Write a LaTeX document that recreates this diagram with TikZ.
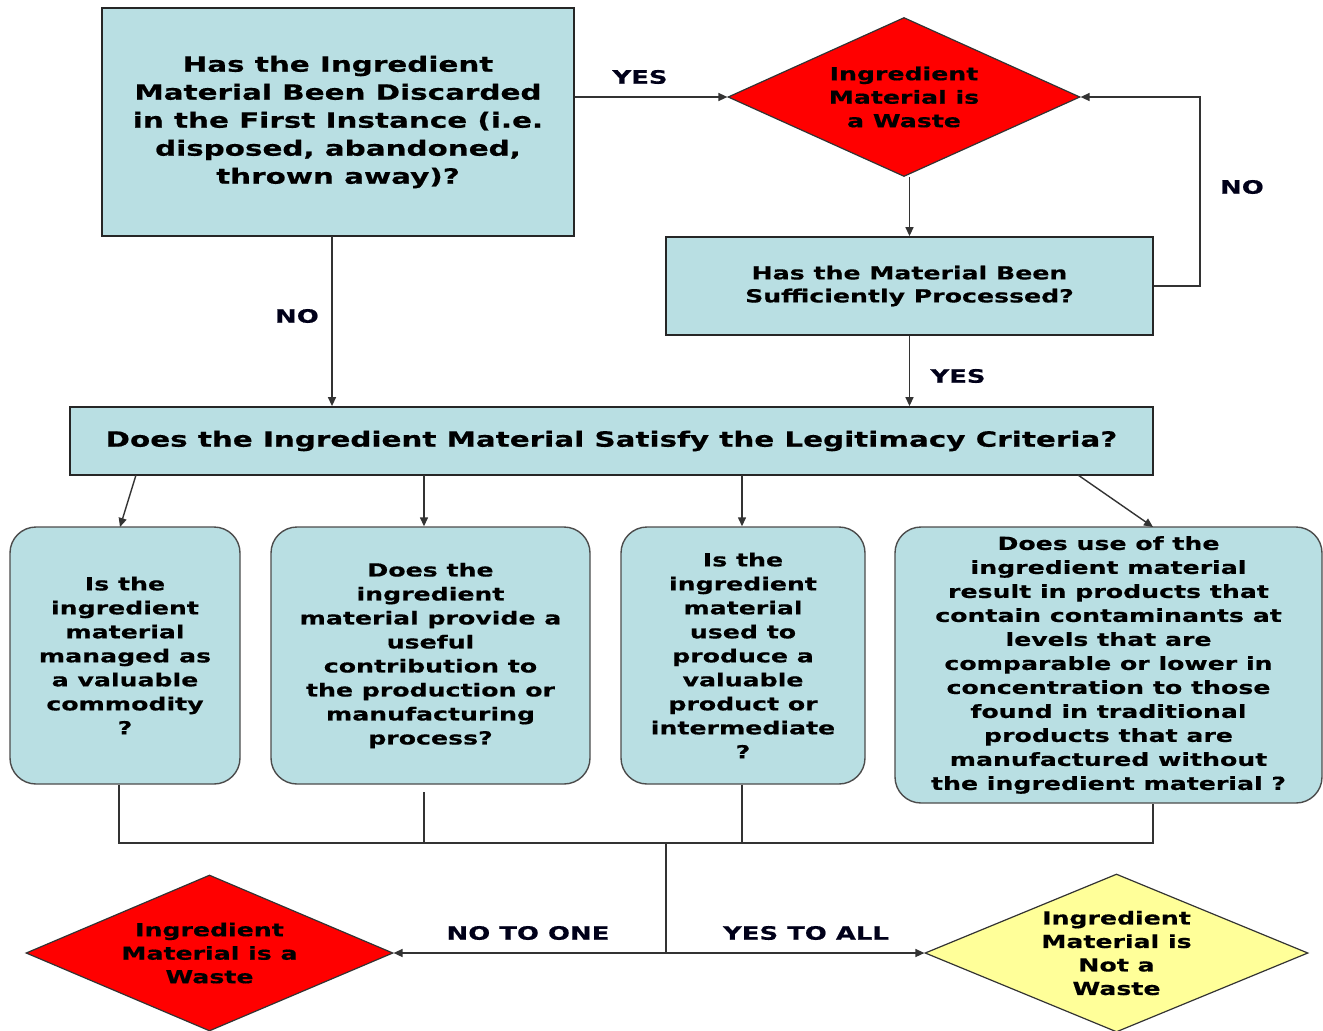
\documentclass[tikz,border=0pt]{standalone}
\usepackage{fontspec}
\setmainfont{DejaVu Sans}[FakeStretch=1.4,FakeBold=0.5]
\usetikzlibrary{shapes.geometric,arrows.meta}
\definecolor{boxblue}{HTML}{B9DFE3}
\definecolor{wred}{HTML}{FF0000}
\definecolor{wyellow}{HTML}{FFFF99}
\begin{document}
\begin{tikzpicture}[x=1pt,y=-1pt,
  sqbox/.style={draw=black!85, line width=1.8pt, fill=boxblue, align=center, inner sep=0pt,
    font=\bfseries\fontsize{21}{28}\selectfont},
  rbox/.style={draw=black!70, line width=1.4pt, fill=boxblue, rounded corners=26pt, align=center, inner sep=0pt,
    font=\bfseries\fontsize{18}{24}\selectfont},
  dia/.style={diamond, aspect=2.2, draw=black!80, line width=1.2pt, align=center, inner sep=0pt,
    font=\bfseries\fontsize{18}{23.5}\selectfont},
  conn/.style={draw=black!80, line width=1.4pt},
  arr/.style={conn, -{Triangle[length=9pt,width=8pt]}},
  lbl/.style={font=\bfseries\fontsize{18.5}{22}\selectfont, text=black!90!blue}]
\useasboundingbox (0,0) rectangle (1323,1031);

% top part
\node[sqbox, minimum width=472pt, minimum height=228pt] (q1) at (338,122)
  {Has the Ingredient\\Material Been Discarded\\in the First Instance (i.e.\\disposed, abandoned,\\thrown away)?};
\node[dia, fill=wred, minimum width=352pt, minimum height=159pt] (w1) at (904,97)
  {Ingredient\\Material is\\a Waste};
\node[sqbox, font=\bfseries\fontsize{18}{23}\selectfont, minimum width=487pt, minimum height=98pt] (q2) at (909.5,286)
  {Has the Material Been\\Sufficiently Processed?};
\node[sqbox, minimum width=1083pt, minimum height=68pt] (crit) at (611.5,441)
  {Does the Ingredient Material Satisfy the Legitimacy Criteria?};

% criteria boxes
\node[rbox, minimum width=230pt, minimum height=257pt] (c1) at (125,655.5)
  {Is the\\ingredient\\material\\managed as\\a valuable\\commodity\\?};
\node[rbox, minimum width=319pt, minimum height=257pt] (c2) at (430.5,655.5)
  {Does the\\ingredient\\material provide a\\useful\\contribution to\\the production or\\manufacturing\\process?};
\node[rbox, minimum width=244pt, minimum height=257pt] (c3) at (743,655.5)
  {Is the\\ingredient\\material\\used to\\produce a\\valuable\\product or\\intermediate\\?};
\node[rbox, minimum width=427pt, minimum height=276pt] (c4) at (1108.5,665)
  {Does use of the\\ingredient material\\result in products that\\contain contaminants at\\levels that are\\comparable or lower in\\concentration to those\\found in traditional\\products that are\\manufactured without\\the ingredient material ?};

% outcomes
\node[dia, fill=wred, minimum width=367pt, minimum height=156pt] (w2) at (209.5,953)
  {Ingredient\\Material is a\\Waste};
\node[dia, fill=wyellow, minimum width=383pt, minimum height=158pt] (nw) at (1116.5,953)
  {Ingredient\\Material is\\Not a\\Waste};

% labels
\node[lbl] (l1) at (640,77) {YES};
\node[lbl] (l2) at (1242,187) {NO};
\node[lbl] (l3) at (297,316) {NO};
\node[lbl] (l4) at (958,376) {YES};
\node[lbl] (l5) at (528,933) {NO TO ONE};
\node[lbl] (l6) at (806,933) {YES TO ALL};

% coordinates
\coordinate (q1s) at (332,236);
\coordinate (loop) at (1200,286);
\coordinate (m1) at (136,475);
\coordinate (m2) at (424,475);
\coordinate (m3) at (742,475);
\coordinate (m4) at (1078,475);
\coordinate (t1) at (120,527);
\coordinate (t4) at (1153,527);
\coordinate (k1) at (119,843);
\coordinate (k4) at (1153,843);
\coordinate (b2) at (424,792);
\coordinate (tr) at (666,843);
\coordinate (split) at (666,953);

% connectors top
\draw[arr] (q1.east |- w1.west) -- (w1.west);
\draw[arr] (w1.south -| q2.north) -- (q2.north);
\draw[arr] (q2.east) -- (loop) |- (w1.east);
\draw[arr] (q2.south) -- (q2.south |- crit.north);
\draw[arr] (q1s) -- (q1s |- crit.north);

% to criteria
\draw[arr] (m1) -- (t1);
\draw[arr] (m2) -- (m2 |- c2.north);
\draw[arr] (m3) -- (m3 |- c3.north);
\draw[arr] (m4) -- (t4);

% collectors
\draw[conn] (c1.south -| k1) -- (k1) -- (k4) -- (c4.south -| k4);
\draw[conn] (b2) -- (b2 |- k1);
\draw[conn] (c3.south -| m3) -- (m3 |- k1);
\draw[conn] (tr) -- (split);
\draw[arr] (split) -- (w2.east);
\draw[arr] (split) -- (nw.west);
\end{tikzpicture}
\end{document}
